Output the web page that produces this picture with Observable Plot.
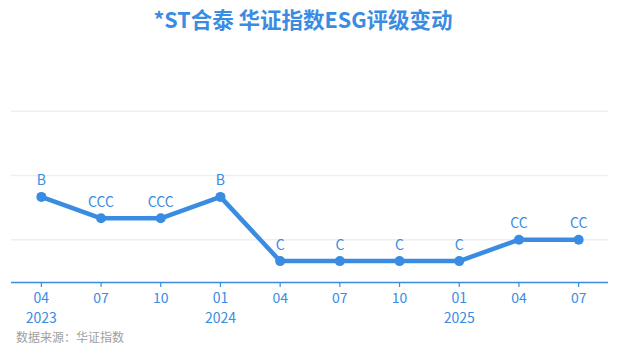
<!DOCTYPE html>
<html>
<head>
<meta charset="utf-8">
<script src="https://cdn.jsdelivr.net/npm/d3@7"></script>
<script src="https://cdn.jsdelivr.net/npm/@observablehq/plot@0.6"></script>
<style>
  html, body { margin: 0; padding: 0; background: #fff; }
  body { width: 618px; height: 355px; overflow: hidden; font-family: "Microsoft YaHei", "Noto Sans CJK SC", sans-serif; }
  #title { height: 40px; line-height: 38px; text-align: center; font-size: 21.5px; font-weight: bold; color: #3a8ce2; padding-right: 12px; }
  #caption { font-size: 12px; color: #a0a0a0; padding-left: 16px; margin-top: -2px; }
</style>
</head>
<body>
<div id="title">*ST合泰 华证指数ESG评级变动</div>
<div id="chart"></div>
<div id="caption">数据来源：华证指数</div>
<script>
const dates = ["2023-04","2023-07","2023-10","2024-01","2024-04","2024-07","2024-10","2025-01","2025-04","2025-07"];
const ratings = ["B","CCC","CCC","B","C","C","C","C","CC","CC"];
const ratingScale = ["C","CC","CCC","B","BB","BBB","A","AA","AAA"];
const gridLevels = [2, 5, 8];

const blue = "#3a8ce2";
const data = dates.map((d, i) => ({date: d, rating: ratings[i], level: ratingScale.indexOf(ratings[i]) + 1}));

const fmt = (d, i) => {
  const [y, m] = d.split("-");
  return (i === 0 || m === "01") ? m + "\n" + y : m;
};

const chart = Plot.plot({
  width: 618,
  height: 290,
  marginLeft: 11,
  marginRight: 10,
  marginTop: 28,
  marginBottom: 48,
  style: {fontFamily: "'Microsoft YaHei', 'Noto Sans CJK SC', sans-serif", background: "#fff"},
  x: {type: "point", domain: dates, padding: 0.5, round: false, axis: null},
  y: {domain: [0, 10], axis: null},
  marks: [
    Plot.ruleY(gridLevels, {stroke: "#efefef", strokeWidth: 1.5}),
    Plot.ruleY([0], {stroke: blue, strokeWidth: 1.5}),
    Plot.axisX({tickSize: 5, tickPadding: 2, stroke: blue, color: blue, fill: blue, fontSize: 14, lineHeight: 1.38, tickFormat: fmt, strokeWidth: 1.2, label: null}),
    Plot.line(data, {x: "date", y: "level", stroke: blue, strokeWidth: 4.5, curve: "linear"}),
    Plot.dot(data, {x: "date", y: "level", r: 5, fill: blue, stroke: null}),
    Plot.text(data, {x: "date", y: "level", text: "rating", dy: -16, fill: blue, fontSize: 14})
  ]
});
document.getElementById("chart").appendChild(chart);
</script>
</body>
</html>
